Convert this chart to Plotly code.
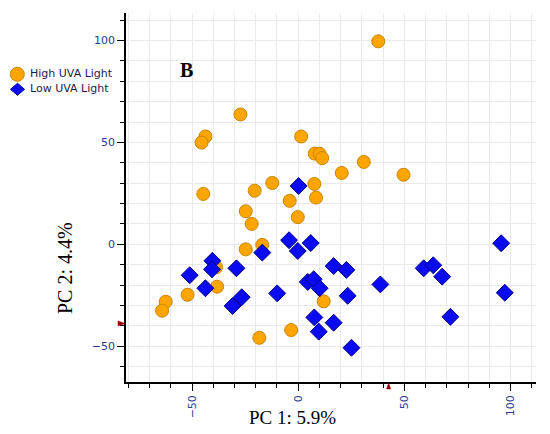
import plotly.graph_objects as go

# PCA scores
high_x = [37.7, -27.2, -43.7, -45.5, 1.4, 7.8, 10.1, 11.3, 30.9, 20.5,
          49.6, -12.2, -20.5, -44.7, 7.6, 8.4, -4.0, -24.7, -21.9, -0.2,
          -16.9, -24.7, -38.7, -38.2, -52.1, -62.4, -64.1, -18.3, -3.3, 12.0]
high_y = [99.6, 63.7, 52.9, 49.9, 52.9, 44.5, 44.4, 42.3, 40.4, 35.0,
          34.1, 30.1, 26.3, 24.7, 29.6, 22.9, 21.3, 16.2, 10.0, 13.3,
          -0.3, -2.5, -11.3, -20.8, -24.8, -28.2, -32.6, -45.9, -42.1, -28.0]

low_x = [0.2, -4.3, 5.9, -0.2, -16.9, -40.4, -40.6, -29.1, -51.1, -43.7,
         -26.6, -30.9, -9.9, 4.5, 7.3, 10.1, 16.7, 22.7, 23.3, 38.7,
         59.1, 63.6, 67.8, 95.6, 97.3, 7.6, 16.7, 9.7, 71.7, 25.1]
low_y = [28.6, 2.0, 0.6, -3.3, -4.1, -8.1, -12.3, -11.8, -15.2, -21.6,
         -26.0, -30.3, -24.1, -18.5, -17.2, -21.6, -10.7, -12.6, -25.3, -19.7,
         -11.8, -10.3, -15.9, 0.5, -23.8, -35.9, -38.5, -42.9, -35.6, -50.8]

# small red markers sitting on the axes
axis_mark_x = 42.6
axis_mark_y = -38.9

x_range = [-81.1, 112]
y_range = [-67.6, 113.5]

orange, orange_edge = "#FFA500", "#C98500"
blue, blue_edge = "#0A0AF0", "#00008C"
mark_red = "#990000"
tick_font = dict(family="DejaVu Sans", size=11, color="#2a3a88")
serif = "Liberation Serif"

fig = go.Figure()
fig.add_trace(go.Scatter(x=high_x, y=high_y, mode="markers", name="High UVA Light",
                         marker=dict(symbol="circle", size=13, color=orange,
                                     line=dict(color=orange_edge, width=1))))
fig.add_trace(go.Scatter(x=low_x, y=low_y, mode="markers", name="Low UVA Light",
                         marker=dict(symbol="diamond", size=13, color=blue,
                                     line=dict(color=blue_edge, width=1))))

fig.update_xaxes(range=x_range, dtick=50, tick0=0, showgrid=True, gridcolor="#eaeaea",
                 zeroline=False, showline=True, linecolor="black", linewidth=1.5,
                 ticks="outside", ticklen=7, tickcolor="black", tickangle=-90,
                 tickfont=tick_font,
                 minor=dict(dtick=10, tick0=0, showgrid=True, gridcolor="#eaeaea",
                            ticks="outside", ticklen=4, tickcolor="black"))
fig.update_yaxes(range=y_range, dtick=50, tick0=0, showgrid=True, gridcolor="#eaeaea",
                 zeroline=False, showline=True, linecolor="black", linewidth=1.5,
                 ticks="outside", ticklen=7, tickcolor="black",
                 tickfont=tick_font,
                 minor=dict(dtick=10, tick0=0, showgrid=True, gridcolor="#eaeaea",
                            ticks="outside", ticklen=4, tickcolor="black"))

# red pointers on the axes (one ref is paper so they are not clipped to the plot)
fig.add_shape(type="path", xref="x", yref="paper", xsizemode="pixel", ysizemode="pixel",
              xanchor=axis_mark_x, yanchor=0, path="M 0,-1 L -2,-7 L 2,-7 Z",
              fillcolor=mark_red, line=dict(color=mark_red, width=0.5))
fig.add_shape(type="path", xref="paper", yref="y", xsizemode="pixel", ysizemode="pixel",
              xanchor=0, yanchor=axis_mark_y, path="M -1,0 L -8,2.5 L -8,-2.5 Z",
              fillcolor=mark_red, line=dict(color=mark_red, width=0.5))

fig.add_annotation(x=-52.7, y=85.6, text="<b>B</b>", showarrow=False,
                   font=dict(family=serif, size=20, color="black"))
fig.add_annotation(x=0.407, y=-0.096, xref="paper", yref="paper", text="PC 1: 5.9%",
                   showarrow=False, yanchor="middle",
                   font=dict(family=serif, size=19, color="black"))
fig.add_annotation(x=-0.147, y=0.308, xref="paper", yref="paper", text="PC 2: 4.4%",
                   showarrow=False, textangle=-90, xanchor="center", yanchor="middle",
                   font=dict(family=serif, size=20, color="black"))

# legend drawn by hand, to keep the tight spacing of the original
legend_font = dict(family="DejaVu Sans", size=11, color="#1c1c4c")
fig.add_shape(type="circle", xref="paper", yref="paper", xsizemode="pixel", ysizemode="pixel",
              xanchor=-0.2651, yanchor=0.8339, x0=-7, x1=7, y0=-7, y1=7,
              fillcolor=orange, line=dict(color=orange_edge, width=1))
fig.add_shape(type="path", xref="paper", yref="paper", xsizemode="pixel", ysizemode="pixel",
              xanchor=-0.2646, yanchor=0.7932, path="M -7,0 L 0,6 L 7,0 L 0,-6 Z",
              fillcolor=blue, line=dict(color=blue_edge, width=1))
fig.add_annotation(x=-0.2383, y=0.8358, xref="paper", yref="paper", text="High UVA Light",
                   showarrow=False, xanchor="left", yanchor="middle", font=legend_font)
fig.add_annotation(x=-0.2383, y=0.7959, xref="paper", yref="paper", text="Low UVA Light",
                   showarrow=False, xanchor="left", yanchor="middle", font=legend_font)

# the page body adds an 8px offset, so the figure is 8px smaller than the window
fig.update_layout(width=542, height=426, plot_bgcolor="white", paper_bgcolor="white",
                  showlegend=False,
                  margin=dict(l=118, r=14, t=5, b=52, autoexpand=False))

fig.write_html("out.html")
